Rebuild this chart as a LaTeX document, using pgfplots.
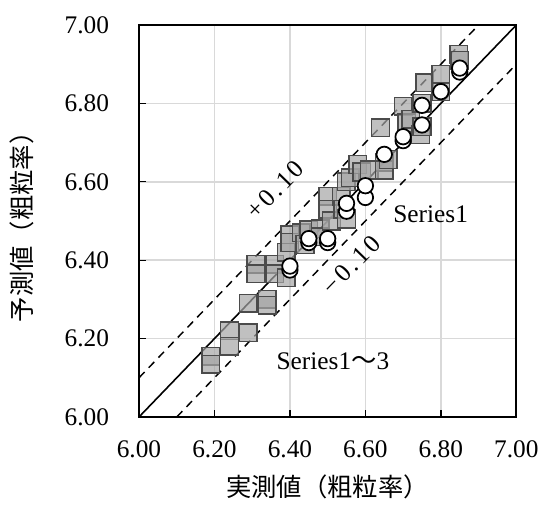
\documentclass[border=0pt]{standalone}
\usepackage{pgfplots}
\pgfplotsset{compat=1.18}
\usepackage{fontspec}
\setmainfont{Liberation Serif}
\newfontfamily\cjk{Noto Sans CJK JP}
\usetikzlibrary{calc}
\definecolor{gridgray}{RGB}{217,217,217}
\definecolor{sqfill}{RGB}{165,165,165}
\definecolor{sqedge}{RGB}{75,75,75}

\begin{document}
\begin{tikzpicture}[font=\fontsize{19pt}{22pt}\selectfont]
\begin{axis}[name=ax, scale only axis, width=283pt, height=294pt,
  xmin=6, xmax=7, ymin=6, ymax=7,
  xtick={6,6.2,6.4,6.6,6.8,7}, ytick={6,6.2,6.4,6.6,6.8,7},
  xticklabel={\pgfmathprintnumber[fixed,fixed zerofill,precision=2,assume math mode=true]{\tick}},
  yticklabel={\pgfmathprintnumber[fixed,fixed zerofill,precision=2,assume math mode=true]{\tick}},
  grid=major, major grid style={gridgray, line width=1.1pt},
  axis line style={line width=1.4pt},
  tick align=inside, tick pos=left, major tick length=5pt,
  tick style={black, line width=1pt},
  xticklabel style={yshift=-14pt}, yticklabel style={xshift=-19pt},
  xlabel={\cjk 実測値（粗粒率）}, ylabel={\cjk 予測値（粗粒率）},
  xlabel style={at={(axis description cs:0.5,0)}, anchor=center, yshift=-52.5pt},
  ylabel style={at={(axis description cs:0,0.5)}, anchor=center, yshift=88pt},
  ]
  % reference lines
  \addplot[black, line width=1.2pt] coordinates {(6,6) (7,7)};
  \addplot[black, line width=1.1pt, dash pattern=on 6pt off 4.5pt] coordinates {(6,6.1) (6.9,7)};
  \addplot[black, line width=1.1pt, dash pattern=on 6pt off 4.5pt] coordinates {(6.1,6) (7,6.9)};
  % Series 2-3 (squares)
  \addplot[only marks, mark=square*, mark size=6.6pt,
    mark options={draw=sqedge, line width=1.1pt, fill=sqfill, fill opacity=0.7}]
    coordinates {
    (6.19,6.155) (6.19,6.135)
    (6.24,6.22) (6.24,6.18)
    (6.29,6.215) (6.29,6.29)
    (6.34,6.30) (6.34,6.285)
    (6.31,6.39) (6.31,6.365)
    (6.36,6.39) (6.36,6.365)
    (6.39,6.355) (6.39,6.42)
    (6.40,6.465) (6.40,6.445)
    (6.43,6.47) (6.44,6.44)
    (6.45,6.478) (6.48,6.48) (6.48,6.46)
    (6.50,6.563) (6.50,6.53) (6.51,6.50)
    (6.536,6.563) (6.54,6.53) (6.55,6.505)
    (6.549,6.60) (6.56,6.61)
    (6.58,6.644) (6.59,6.625)
    (6.61,6.63)
    (6.64,6.738)
    (6.65,6.65) (6.65,6.63) (6.66,6.657)
    (6.70,6.793) (6.71,6.75)
    (6.72,6.76) (6.746,6.72) (6.75,6.74)
    (6.75,6.80) (6.757,6.853)
    (6.80,6.874) (6.80,6.83)
    (6.847,6.925) (6.85,6.91)
    };
  % Series 1 (circles)
  \addplot[only marks, mark=*, mark size=5.8pt,
    mark options={draw=black, line width=1.3pt, fill=white}]
    coordinates {
    (6.40,6.375) (6.40,6.385)
    (6.45,6.445) (6.45,6.455)
    (6.50,6.445) (6.50,6.455)
    (6.55,6.525) (6.55,6.545)
    (6.60,6.56) (6.60,6.59)
    (6.65,6.67)
    (6.70,6.705) (6.70,6.715)
    (6.75,6.745) (6.75,6.795)
    (6.80,6.83)
    (6.85,6.88) (6.85,6.89)
    };
  \node[rotate=45.8] at (axis cs:6.361,6.58) {\addfontfeature{LetterSpace=12}+0.10};
  \node[rotate=45.8] at (axis cs:6.563,6.388) {\addfontfeature{LetterSpace=12}−0.10};
  \node at (axis cs:6.773,6.516) {Series1};
  \node at (axis cs:6.514,6.141) {Series1{\cjk ～}3};
\end{axis}
\pgfresetboundingbox
\path[use as bounding box] ($(ax.south west)+(-104.25pt,-66pt)$) rectangle ($(ax.north east)+(17.75pt,18.75pt)$);
\end{tikzpicture}
\end{document}
